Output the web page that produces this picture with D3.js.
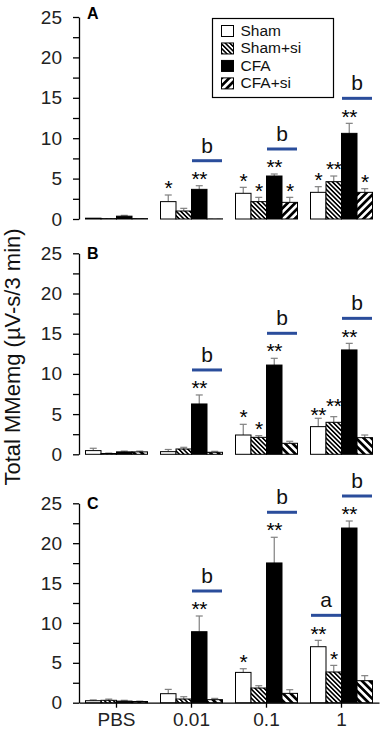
<!DOCTYPE html>
<html><head><meta charset="utf-8">
<script src="https://cdn.jsdelivr.net/npm/d3@7"></script>
<style>body{margin:0;background:#fff}svg{display:block;font-family:"Liberation Sans",Arial,Helvetica,sans-serif}</style>
</head><body><svg id="chart" width="383" height="736"></svg>
<script>
// ---------- data ----------
const groups = ["PBS", "0.01", "0.1", "1"];
const seriesNames = ["Sham", "Sham+si", "CFA", "CFA+si"];
const yTickValues = [0, 2.5, 5, 7.5, 10, 12.5, 15, 17.5, 20, 22.5, 25];
const panelLabels = ["A", "B", "C"];
const yTitle = "Total MMemg (\u00b5V-s/3 min)";

// Panel A
const aSham = [0.1, 2.15, 3.18, 3.3];
const aShamErr = [0.0, 0.82, 0.74, 0.7];
const aShamSi = [0.05, 0.99, 2.15, 4.62];
const aShamSiErr = [0.0, 0.33, 0.53, 0.7];
const aCFA = [0.35, 3.67, 5.32, 10.6];
const aCFAErr = [0.1, 0.45, 0.25, 1.24];
const aCFASi = [0.05, 0.02, 2.06, 3.3];
const aCFASiErr = [0.0, 0.0, 0.62, 0.45];
const aStars = [["", "*", "*", "*"], ["", "", "*", "**"], ["", "**", "**", "**"], ["", "", "*", "*"]];
const aBrackets = [["0.01", "b", "CFA"], ["0.1", "b", "CFA"], ["1", "b", "CFA"]];

// Panel B
const bSham = [0.46, 0.33, 2.4, 3.44];
const bShamErr = [0.29, 0.27, 1.33, 1.04];
const bShamSi = [0.1, 0.66, 2.11, 3.98];
const bShamSiErr = [0.05, 0.21, 0.21, 0.7];
const bCFA = [0.3, 6.26, 11.1, 12.98];
const bCFAErr = [0.1, 1.12, 0.84, 0.82];
const bCFASi = [0.3, 0.25, 1.37, 2.07];
const bCFASiErr = [0.1, 0.12, 0.25, 0.33];
const bStars = [["", "", "*", "**"], ["", "", "*", "**"], ["", "**", "**", "**"], ["", "", "", ""]];
const bBrackets = [["0.01", "b", "CFA"], ["0.1", "b", "CFA"], ["1", "b", "CFA"]];

// Panel C
const cSham = [0.25, 1.13, 3.8, 7.02];
const cShamErr = [0.1, 0.54, 0.46, 0.8];
const cShamSi = [0.3, 0.46, 1.84, 3.85];
const cShamSiErr = [0.15, 0.29, 0.29, 0.83];
const cCFA = [0.2, 8.9, 17.52, 21.9];
const cCFAErr = [0.1, 1.97, 3.22, 0.88];
const cCFASi = [0.15, 0.38, 1.17, 2.76];
const cCFASiErr = [0.05, 0.16, 0.46, 0.63];
const cStars = [["", "", "*", "**"], ["", "", "", "*"], ["", "**", "**", "**"], ["", "", "", ""]];
const cBrackets = [["0.01", "b", "CFA"], ["0.1", "b", "CFA"], ["1", "a", "Sham"], ["1", "b", "CFA"]];

// ---------- layout ----------
const svg = d3.select("#chart");
const FONT = '"Liberation Sans",Arial,Helvetica,sans-serif';
const axisX = 79, axisRight = 379;
const panelGeom = [
  {y0: 219, y25: 17, labelY: 18.5, cfaSiPat: "wideF", xAxis: false},
  {y0: 454.3, y25: 253.3, labelY: 258.5, cfaSiPat: "wideB", xAxis: false},
  {y0: 702.7, y25: 503.3, labelY: 508.5, cfaSiPat: "wideB", xAxis: true}
];
const panelData = [
  {vals: [aSham, aShamSi, aCFA, aCFASi], errs: [aShamErr, aShamSiErr, aCFAErr, aCFASiErr], stars: aStars, brackets: aBrackets},
  {vals: [bSham, bShamSi, bCFA, bCFASi], errs: [bShamErr, bShamSiErr, bCFAErr, bCFASiErr], stars: bStars, brackets: bBrackets},
  {vals: [cSham, cShamSi, cCFA, cCFASi], errs: [cShamErr, cShamSiErr, cCFAErr, cCFASiErr], stars: cStars, brackets: cBrackets}
];

// patterns
const defs = svg.append("defs");
function stripePattern(id, period, black, angle) {
  const p = defs.append("pattern").attr("id", id).attr("patternUnits", "userSpaceOnUse")
    .attr("width", period).attr("height", period).attr("patternTransform", `rotate(${angle})`);
  p.append("rect").attr("width", period).attr("height", period).attr("fill", "#fff");
  p.append("rect").attr("width", black).attr("height", period).attr("fill", "#000");
}
stripePattern("dense", 3.2, 1.6, -45);   // "\\" thin stripes
stripePattern("wideF", 5.4, 2.7, 45);    // "/" wide stripes
stripePattern("wideB", 5.4, 2.7, -45);   // "\\" wide stripes

const x0 = d3.scaleBand().domain(groups).range([axisX, axisRight]);
const x1 = d3.scaleBand().domain(seriesNames).range([6.5, 68.5]);

panelGeom.forEach((g, pi) => {
  const d = panelData[pi];
  const y = d3.scaleLinear().domain([0, 25]).range([g.y0, g.y25]);
  const fills = ["#fff", "url(#dense)", "#000", `url(#${g.cfaSiPat})`];
  const root = svg.append("g");

  // y axis
  const yAx = root.append("g").attr("transform", `translate(${axisX},0)`)
    .call(d3.axisLeft(y).tickValues(yTickValues).tickSize(6).tickSizeOuter(0).tickPadding(11)
      .tickFormat(v => v % 5 === 0 ? String(v) : ""));
  yAx.selectAll("path,line").attr("stroke", "#000").attr("stroke-width", 1.3);
  yAx.selectAll("text").attr("font-size", 19).attr("font-family", FONT).attr("fill", "#222");

  // x axis (panel C only)
  if (g.xAxis) {
    const xAx = root.append("g").attr("transform", `translate(0,${g.y0})`)
      .call(d3.axisBottom(x0).tickSize(5).tickSizeOuter(0).tickPadding(4.5));
    xAx.selectAll("path,line").attr("stroke", "#000").attr("stroke-width", 1.3);
    xAx.selectAll("text").attr("font-size", 19).attr("font-family", FONT).attr("fill", "#222");
  }

  // bars
  groups.forEach((grp, gi) => {
    let prevStar = null; // for staggering adjacent labels
    seriesNames.forEach((s, si) => {
      const v = d.vals[si][gi], e = d.errs[si][gi];
      const bx = x0(grp) + x1(s), bw = x1.bandwidth();
      const cx = bx + bw / 2;
      if (e > 0) {
        root.append("line").attr("x1", cx).attr("x2", cx).attr("y1", y(v)).attr("y2", y(v + e))
          .attr("stroke", "#808080").attr("stroke-width", 1.2);
        root.append("line").attr("x1", cx - 3.5).attr("x2", cx + 3.5).attr("y1", y(v + e)).attr("y2", y(v + e))
          .attr("stroke", "#808080").attr("stroke-width", 1.2);
      }
      root.append("rect").attr("x", bx).attr("y", y(v)).attr("width", bw).attr("height", y(0) - y(v))
        .attr("fill", fills[si]).attr("stroke", "#000").attr("stroke-width", 1);
      const st = d.stars[si][gi];
      if (st) {
        let sy = y(v + e) - 12;
        if (prevStar && prevStar.len + st.length >= 4 && Math.abs(prevStar.y - sy) < 8) {
          prevStar.node.attr("y", prevStar.y + 4);
          sy = prevStar.y - 5;
        }
        const node = root.append("text").attr("x", cx).attr("y", sy).attr("dy", "0.58em")
          .attr("text-anchor", "middle").attr("font-size", 21).attr("letter-spacing", -0.5)
          .attr("font-family", FONT).text(st);
        prevStar = {y: sy, len: st.length, node};
      } else {
        prevStar = null;
      }
    });
  });

  // significance brackets
  d.brackets.forEach(([grp, letter, first]) => {
    const si = seriesNames.indexOf(first);
    const gi = groups.indexOf(grp);
    const top = Math.max(d.vals[si][gi] + d.errs[si][gi], d.vals[si + 1][gi] + d.errs[si + 1][gi]);
    const cx = x0(grp) + x1(seriesNames[si + 1]);
    const ly = y(top) - 25;
    root.append("line").attr("x1", cx - 15).attr("x2", cx + 15).attr("y1", ly).attr("y2", ly)
      .attr("stroke", "#2a4d9b").attr("stroke-width", 3);
    root.append("text").attr("x", cx).attr("y", ly - 8).attr("text-anchor", "middle")
      .attr("font-size", 21).attr("font-family", FONT).attr("fill", "#111").text(letter);
  });

  // panel label
  root.append("text").attr("x", 87).attr("y", g.labelY).attr("font-size", 16).attr("font-weight", "bold")
    .attr("font-family", FONT).text(panelLabels[pi]);
});

// y title
svg.append("text").attr("transform", "translate(19.5,357) rotate(-90)").attr("text-anchor", "middle")
  .attr("font-size", 22).attr("font-family", FONT).attr("fill", "#111").text(yTitle);

// legend
const lg = svg.append("g");
lg.append("rect").attr("x", 212.5).attr("y", 18.5).attr("width", 121).attr("height", 79)
  .attr("fill", "#fff").attr("stroke", "#000").attr("stroke-width", 1.2);
const legendFills = ["#fff", "url(#dense)", "#000", "url(#wideF)"];
const legendY = d3.scalePoint().domain(seriesNames).range([36, 88.4]);
seriesNames.forEach((s, i) => {
  const by = legendY(s);
  lg.append("rect").attr("x", 221.5).attr("y", by - 10.5).attr("width", 12).attr("height", 11)
    .attr("fill", legendFills[i]).attr("stroke", "#000").attr("stroke-width", 1);
  lg.append("text").attr("x", 240.5).attr("y", by).attr("font-size", 15.5).attr("font-family", FONT)
    .attr("fill", "#111").text(s);
});
</script></body></html>
